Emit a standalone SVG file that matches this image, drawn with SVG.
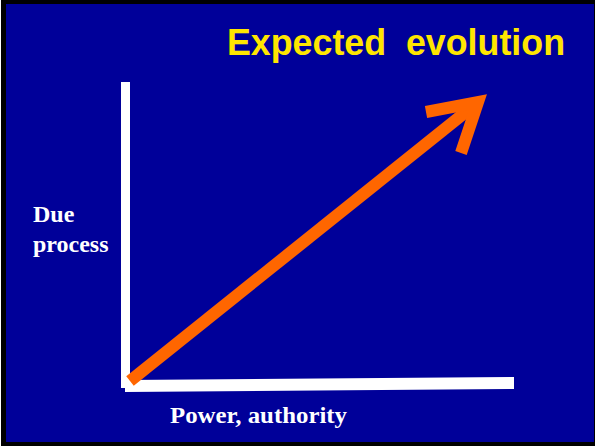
<svg xmlns="http://www.w3.org/2000/svg" width="596" height="446" viewBox="0 0 596 446">
  <style>
    .title { font-family: "Liberation Sans", Arial, sans-serif; font-weight: bold; font-size: 36px; fill: #FFE600; white-space: pre; }
    .label { font-family: "Liberation Serif", "Times New Roman", serif; font-weight: bold; font-size: 24px; fill: #FFFFFF; }
    .axis { fill: #FFFFFF; }
    .arrow { fill: none; stroke: #FF6600; stroke-width: 12; }
  </style>
  <rect x="0" y="0" width="596" height="446" fill="#FFFFFF"/>
  <rect x="1" y="0" width="594" height="446" fill="#000000"/>
  <rect x="6" y="4" width="588" height="438" fill="#000099"/>

  <g id="title">
    <text class="title" x="227" y="55" textLength="338" lengthAdjust="spacingAndGlyphs" xml:space="preserve">Expected  evolution</text>
  </g>

  <g id="y-axis">
    <rect class="axis" x="121" y="82" width="9" height="306"/>
    <text class="label" x="33" y="222">Due</text>
    <text class="label" x="33" y="252">process</text>
  </g>

  <g id="x-axis">
    <polygon class="axis" points="125,380 514,377 514,389 125,392"/>
    <text class="label" x="170" y="423" textLength="177" lengthAdjust="spacingAndGlyphs">Power, authority</text>
  </g>

  <g id="connectors">
    <line class="arrow" x1="130" y1="381" x2="477" y2="103"/>
    <polyline class="arrow" points="426,112 478,102 461,153" stroke-linejoin="miter"/>
  </g>
</svg>
